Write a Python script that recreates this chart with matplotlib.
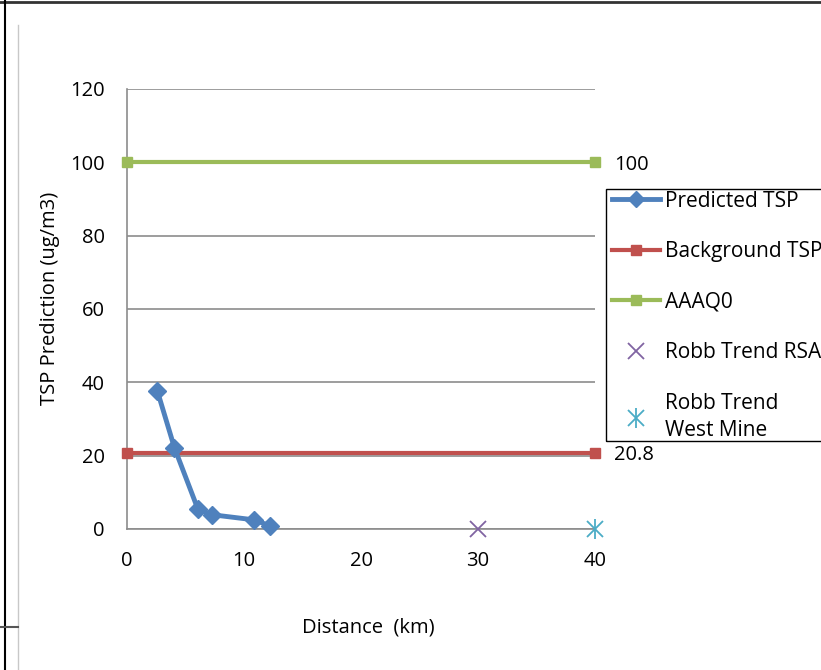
import matplotlib
matplotlib.use("Agg")
import matplotlib.pyplot as plt
from matplotlib.lines import Line2D
from matplotlib.patches import Rectangle

plt.rcParams['font.family'] = ['Open Sans', 'DejaVu Sans']

pred_x = [2.6, 4.05, 6.05, 7.25, 10.85, 12.2]
pred_y = [37.6, 22.2, 5.5, 3.9, 2.5, 0.9]
bg_x = [0, 40]
bg_y = [20.8, 20.8]
aaaq_x = [0, 40]
aaaq_y = [100, 100]
rsa_x = [30]
rsa_y = [0]
west_x = [40]
west_y = [0]
xticks = [0, 10, 20, 30, 40]
yticks = [0, 20, 40, 60, 80, 100, 120]

W, H = 821, 670
fig = plt.figure(figsize=(W/100, H/100), dpi=100)
ax = fig.add_axes([127/W, 1-529/H, (595-127)/W, (529-89)/H])

blue = '#4F81BD'
red = '#C0504D'
green = '#9BBB59'
purple = '#8064A2'
cyan = '#4BACC6'

FS = 14.5

ax.plot(aaaq_x, aaaq_y, color=green, lw=3, marker='s', ms=7, zorder=3, clip_on=False)
ax.plot(bg_x, bg_y, color=red, lw=3, marker='s', ms=7, zorder=3, clip_on=False)
ax.plot(pred_x, pred_y, color=blue, lw=3.5, marker='D', ms=9, zorder=4, clip_on=False)
ax.plot(rsa_x, rsa_y, ls='none', marker='x', ms=11, mew=1.3, color=purple, zorder=5, clip_on=False)
ax.plot(west_x, west_y, ls='none', marker='x', ms=11, mew=1.3, color=cyan, zorder=5, clip_on=False)
ax.plot(west_x, west_y, ls='none', marker='|', ms=15, mew=1.3, color=cyan, zorder=5, clip_on=False)

ax.text(aaaq_x[-1] + 1.6, aaaq_y[-1] - 0.6, f"{aaaq_y[-1]:g}", va='center', ha='left', fontsize=FS)
ax.text(bg_x[-1] + 1.6, bg_y[-1] - 0.6, f"{bg_y[-1]:g}", va='center', ha='left', fontsize=FS)

ax.set_xlim(0, 40)
ax.set_ylim(0, 120)
ax.set_xticks(xticks)
ax.set_yticks(yticks)
ax.tick_params(axis='x', length=0, labelsize=FS, pad=16)
ax.tick_params(axis='y', length=0, labelsize=FS, pad=16)
ax.grid(axis='y', color='#8C8C8C', lw=1.2)
ax.set_axisbelow(True)
for s in ['top', 'right']:
    ax.spines[s].set_visible(False)
for s in ['left', 'bottom']:
    ax.spines[s].set_color('#8C8C8C')
    ax.spines[s].set_linewidth(1.2)

ax.set_xlabel('Distance  (km)', fontsize=FS)
ax.set_ylabel('TSP Prediction (ug/m3)', fontsize=FS)
ax.xaxis.set_label_coords((368-127)/468, (529-628)/440)
ax.xaxis.label.set_va('center')
ax.yaxis.set_label_coords((50-127)/468, (529-298)/440)
ax.yaxis.label.set_va('center')

handles = [
    Line2D([], [], color=blue, lw=3.5, marker='D', ms=8),
    Line2D([], [], color=red, lw=3, marker='s', ms=7),
    Line2D([], [], color=green, lw=3, marker='s', ms=7),
    Line2D([], [], ls='none', color=purple, marker='x', ms=11, mew=1.3),
    (Line2D([], [], ls='none', color=cyan, marker='x', ms=11, mew=1.3),
     Line2D([], [], ls='none', color=cyan, marker='|', ms=15, mew=1.3)),
]
labels = ['Predicted TSP', 'Background TSP', 'AAAQ0', 'Robb Trend RSA', 'Robb Trend\nWest Mine']
leg = fig.legend(handles, labels, loc='upper left', bbox_to_anchor=(612/W, 1-190.5/H),
                 fontsize=15, frameon=False,
                 labelspacing=1.42, handlelength=2.3, handletextpad=0.25,
                 borderpad=0, borderaxespad=0)
leg.get_texts()[-1].set_linespacing(1.4)

# legend frame
fig.add_artist(Rectangle((606/W, 1-441/H), (830-606)/W, (441-189)/H, transform=fig.transFigure,
                         facecolor='none', edgecolor='black', lw=1.0, zorder=6))

# outer page border lines
fig.add_artist(Line2D([0, 1], [1-1.5/H, 1-1.5/H], color='#333333', lw=2, transform=fig.transFigure))
fig.add_artist(Line2D([5/W, 5/W], [0, 1], color='black', lw=1.5, transform=fig.transFigure))
fig.add_artist(Line2D([18/W, 18/W], [0, 1-25/H], color='#C8C8C8', lw=1, transform=fig.transFigure))
fig.add_artist(Line2D([0, 18/W], [1-627/H, 1-627/H], color='#555555', lw=1.5, transform=fig.transFigure))

fig.savefig('out.png', dpi=100)
